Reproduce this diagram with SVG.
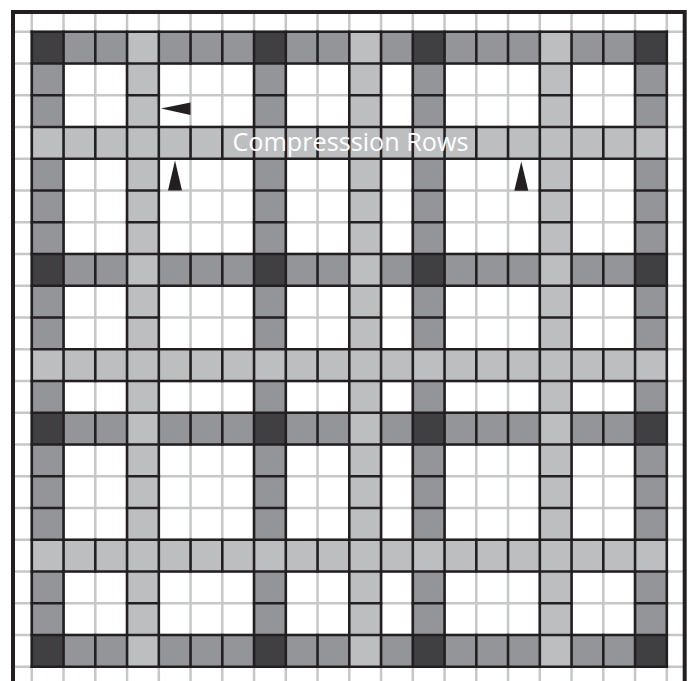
<svg xmlns="http://www.w3.org/2000/svg" width="696" height="681" viewBox="0 0 696 681">
  <style>
    .grid { stroke: #c6c7c9; stroke-width: 2.5; fill: none; }
    .mid { fill: #939598; }
    .light { fill: #bcbec0; }
    .dark { fill: #404042; }
    .edge { stroke: #231f20; stroke-width: 2.6; fill: none; stroke-linecap: square; }
    .frame { stroke: #231f20; stroke-width: 4; fill: none; }
    .arrow { fill: #231f20; }
    .label { font-family: "Open Sans", "Liberation Sans", Arial, sans-serif; font-size: 25px; fill: #ffffff; }
  </style>
  <rect x="0" y="0" width="696" height="681" fill="#ffffff"/>
  <g id="lattice" transform="translate(31.8,31.8) scale(31.75)">
    <path class="grid" vector-effect="non-scaling-stroke" d="M0,-0.6V20.6M1,-0.6V20.6M2,-0.6V20.6M3,-0.6V20.6M4,-0.6V20.6M5,-0.6V20.6M6,-0.6V20.6M7,-0.6V20.6M8,-0.6V20.6M9,-0.6V20.6M10,-0.6V20.6M11,-0.6V20.6M12,-0.6V20.6M13,-0.6V20.6M14,-0.6V20.6M15,-0.6V20.6M16,-0.6V20.6M17,-0.6V20.6M18,-0.6V20.6M19,-0.6V20.6M20,-0.6V20.6M-0.6,0H20.6M-0.6,1H20.6M-0.6,2H20.6M-0.6,3H20.6M-0.6,4H20.6M-0.6,5H20.6M-0.6,6H20.6M-0.6,7H20.6M-0.6,8H20.6M-0.6,9H20.6M-0.6,10H20.6M-0.6,11H20.6M-0.6,12H20.6M-0.6,13H20.6M-0.6,14H20.6M-0.6,15H20.6M-0.6,16H20.6M-0.6,17H20.6M-0.6,18H20.6M-0.6,19H20.6M-0.6,20H20.6"/>
    <g id="mid-bands">
      <rect class="mid" x="0" y="0" width="20" height="1"/>
      <rect class="mid" x="0" y="7" width="20" height="1"/>
      <rect class="mid" x="0" y="12" width="20" height="1"/>
      <rect class="mid" x="0" y="19" width="20" height="1"/>
      <rect class="mid" x="0" y="0" width="1" height="20"/>
      <rect class="mid" x="7" y="0" width="1" height="20"/>
      <rect class="mid" x="12" y="0" width="1" height="20"/>
      <rect class="mid" x="19" y="0" width="1" height="20"/>
    </g>
    <g id="light-bands">
      <rect class="light" x="0" y="3" width="20" height="1"/>
      <rect class="light" x="0" y="10" width="20" height="1"/>
      <rect class="light" x="0" y="16" width="20" height="1"/>
      <rect class="light" x="3" y="0" width="1" height="20"/>
      <rect class="light" x="10" y="0" width="1" height="20"/>
      <rect class="light" x="16" y="0" width="1" height="20"/>
    </g>
    <g id="dark-crossings">
      <rect class="dark" x="0" y="0" width="1" height="1"/>
      <rect class="dark" x="7" y="0" width="1" height="1"/>
      <rect class="dark" x="12" y="0" width="1" height="1"/>
      <rect class="dark" x="19" y="0" width="1" height="1"/>
      <rect class="dark" x="0" y="7" width="1" height="1"/>
      <rect class="dark" x="7" y="7" width="1" height="1"/>
      <rect class="dark" x="12" y="7" width="1" height="1"/>
      <rect class="dark" x="19" y="7" width="1" height="1"/>
      <rect class="dark" x="0" y="12" width="1" height="1"/>
      <rect class="dark" x="7" y="12" width="1" height="1"/>
      <rect class="dark" x="12" y="12" width="1" height="1"/>
      <rect class="dark" x="19" y="12" width="1" height="1"/>
      <rect class="dark" x="0" y="19" width="1" height="1"/>
      <rect class="dark" x="7" y="19" width="1" height="1"/>
      <rect class="dark" x="12" y="19" width="1" height="1"/>
      <rect class="dark" x="19" y="19" width="1" height="1"/>
    </g>
    <g id="cell-edges">
      <path class="edge" vector-effect="non-scaling-stroke" d="M0,0H20M0,1H20M0,3H20M0,4H20M0,7H20M0,8H20M0,10H20M0,11H20M0,12H20M0,13H20M0,16H20M0,17H20M0,19H20M0,20H20"/>
      <path class="edge" vector-effect="non-scaling-stroke" d="M0,0V20M1,0V20M3,0V20M4,0V20M7,0V20M8,0V20M10,0V20M11,0V20M12,0V20M13,0V20M16,0V20M17,0V20M19,0V20M20,0V20"/>
      <path class="edge" vector-effect="non-scaling-stroke" d="M2,0V1M5,0V1M6,0V1M9,0V1M14,0V1M15,0V1M18,0V1M2,3V4M5,3V4M6,3V4M9,3V4M14,3V4M15,3V4M18,3V4M2,7V8M5,7V8M6,7V8M9,7V8M14,7V8M15,7V8M18,7V8M2,10V11M5,10V11M6,10V11M9,10V11M14,10V11M15,10V11M18,10V11M2,12V13M5,12V13M6,12V13M9,12V13M14,12V13M15,12V13M18,12V13M2,16V17M5,16V17M6,16V17M9,16V17M14,16V17M15,16V17M18,16V17M2,19V20M5,19V20M6,19V20M9,19V20M14,19V20M15,19V20M18,19V20"/>
      <path class="edge" vector-effect="non-scaling-stroke" d="M0,2H1M0,5H1M0,6H1M0,9H1M0,14H1M0,15H1M0,18H1M3,2H4M3,5H4M3,6H4M3,9H4M3,14H4M3,15H4M3,18H4M7,2H8M7,5H8M7,6H8M7,9H8M7,14H8M7,15H8M7,18H8M10,2H11M10,5H11M10,6H11M10,9H11M10,14H11M10,15H11M10,18H11M12,2H13M12,5H13M12,6H13M12,9H13M12,14H13M12,15H13M12,18H13M16,2H17M16,5H17M16,6H17M16,9H17M16,14H17M16,15H17M16,18H17M19,2H20M19,5H20M19,6H20M19,9H20M19,14H20M19,15H20M19,18H20"/>
    </g>
  </g>
  <path id="frame" class="frame" d="M13,681V12H684.7V681"/>
  <g id="arrows">
    <polygon class="arrow" points="161,108.5 190.5,102.5 190.5,115"/>
    <polygon class="arrow" points="175,160.5 168,190.5 182,190.5"/>
    <polygon class="arrow" points="521.3,161.5 514.3,190.8 528.3,190.8"/>
  </g>
  <text id="label" class="label" x="232.5" y="151" textLength="236" lengthAdjust="spacingAndGlyphs">Compresssion Rows</text>
</svg>
